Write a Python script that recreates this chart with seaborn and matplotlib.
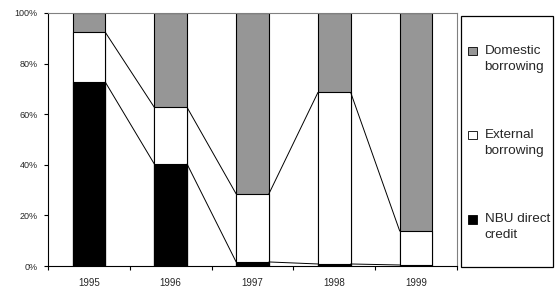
import matplotlib
matplotlib.use("Agg")
import matplotlib.pyplot as plt
from matplotlib.patches import Patch, Rectangle
from matplotlib.legend_handler import HandlerPatch
from matplotlib.font_manager import FontProperties
import numpy as np
import pandas as pd
import seaborn as sns

years = ["1995", "1996", "1997", "1998", "1999"]
nbu_credit = [72.7, 40.3, 1.6, 0.8, 0.4]
external = [19.7, 22.4, 26.9, 67.8, 13.4]
domestic = [7.6, 37.3, 71.5, 31.4, 86.2]
y_ticks = [0, 20, 40, 60, 80, 100]
labels = ["Domestic\nborrowing", "External\nborrowing", "NBU direct\ncredit"]

sns.set_style("white")
plt.rcParams["font.family"] = ["Liberation Sans", "DejaVu Sans"]

c_dom, c_ext, c_nbu = "#969696", "#ffffff", "#000000"

cum_nbu = np.array(nbu_credit)
cum_ext = cum_nbu + np.array(external)
cum_all = cum_ext + np.array(domestic)

df = pd.DataFrame({"year": years, "nbu": cum_nbu, "ext": cum_ext, "all": cum_all})

fig = plt.figure(figsize=(5.58, 2.96), dpi=100)
ax = fig.add_axes([48 / 558, 30 / 296, 409 / 558, 253 / 296])

w = 0.4
for col, color in [("all", c_dom), ("ext", c_ext), ("nbu", c_nbu)]:
    sns.barplot(data=df, x="year", y=col, color=color, edgecolor="black",
                linewidth=0.8, width=w, errorbar=None, ax=ax, saturation=1)

# series lines
for cum in (cum_nbu, cum_ext):
    for i in range(len(years) - 1):
        ax.plot([i + w / 2, i + 1 - w / 2], [cum[i], cum[i + 1]],
                color="black", lw=0.7, zorder=3)

ax.set_xlim(-0.5, len(years) - 0.5)
ax.set_ylim(0, 100)
ax.set_xlabel("")
ax.set_ylabel("")
ax.set_yticks(y_ticks)
ax.set_yticklabels([f"{t}%" for t in y_ticks])
ax.set_xticks(range(len(years)))
ax.set_xticklabels(years)
ax.set_xticks(np.arange(-0.5, len(years), 1.0), minor=True)
ax.tick_params(axis="x", which="major", length=0, pad=9, labelsize=7)
ax.tick_params(axis="x", which="minor", length=3, width=0.8, direction="out",
               bottom=True, color="black")
ax.tick_params(axis="y", which="major", length=3, width=0.8, direction="out",
               left=True, pad=4.5, labelsize=6.5, color="black")

for s in ("left", "bottom"):
    ax.spines[s].set_color("black")
    ax.spines[s].set_linewidth(0.8)
for s in ("top", "right"):
    ax.spines[s].set_color("#808080")
    ax.spines[s].set_linewidth(0.8)
    ax.spines[s].set_visible(True)

# legend frame
fig.patches.append(Rectangle((461 / 558, 1 - 267 / 296), 92 / 558, 251 / 296,
                             transform=fig.transFigure, fill=False,
                             edgecolor="black", lw=0.9))

F = 9.7           # legend font size, pt
S = 6.2           # marker size, pt


class TopSquare(HandlerPatch):
    def create_artists(self, legend, orig_handle, xdescent, ydescent,
                       width, height, fontsize, trans):
        y0 = 0.92 * fontsize - S / 2
        p = Rectangle((-xdescent, y0), S, S,
                      facecolor=orig_handle.get_facecolor(),
                      edgecolor="black", lw=0.6)
        p.set_transform(trans)
        return [p]


handles = [Patch(facecolor=c_dom), Patch(facecolor=c_ext), Patch(facecolor=c_nbu)]
prop = FontProperties(family=["Liberation Sans", "DejaVu Sans"], size=F)
leg = fig.legend(handles, labels, loc="center left",
                 bbox_to_anchor=(468 / 558, 1 - 143 / 296), frameon=False,
                 prop=prop, handlelength=S / F, handleheight=0.7,
                 handletextpad=(8 * 0.72) / F, labelspacing=4.13, borderpad=0,
                 borderaxespad=0, handler_map={Patch: TopSquare()})
for t in leg.get_texts():
    t.set_linespacing(1.5)

fig.savefig("out.png", dpi=100)
